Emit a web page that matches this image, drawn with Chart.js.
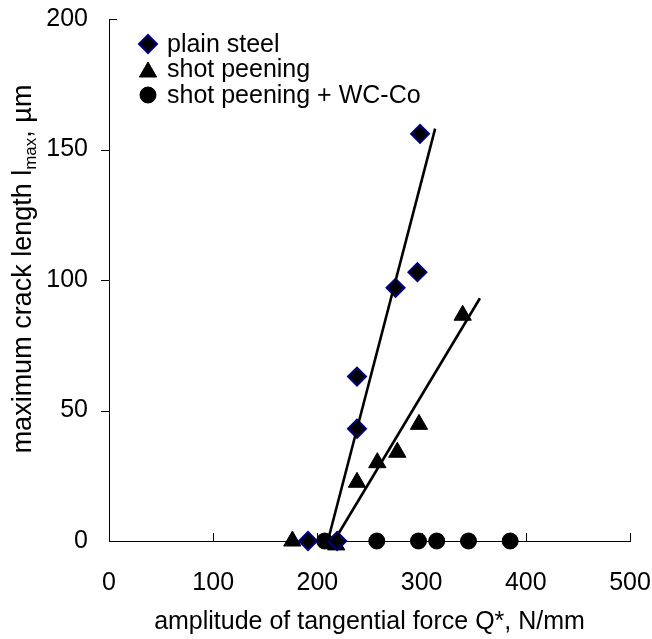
<!DOCTYPE html>
<html>
<head>
<meta charset="utf-8">
<script src="https://cdn.jsdelivr.net/npm/chart.js@4/dist/chart.umd.min.js"></script>
<style>
  html, body { margin: 0; padding: 0; background: #ffffff; }
  #wrap { width: 652px; height: 639px; }
</style>
</head>
<body>
<div id="wrap"><canvas id="c" width="652" height="639"></canvas></div>
<script>
// ---- data ----
const xTickValues = [0, 100, 200, 300, 400, 500];
const yTickValues = [0, 50, 100, 150, 200];
const seriesNames = ['plain steel', 'shot peening', 'shot peening + WC-Co'];

const plainX = [191, 219, 238, 238, 275, 296, 298.5];
const plainY = [0, 0, 43, 63, 97, 103, 156];

const shotX = [176, 218, 238, 257.5, 276.7, 297.5, 339.4];
const shotY = [0, -1.5, 22.5, 30, 34, 44.7, 86.5];

const wcX = [207, 257, 297, 314.5, 345, 385];
const wcY = [0, 0, 0, 0, 0, 0];

const plainFitX = [210, 313];
const plainFitY = [0, 158];
const shotFitX = [216, 356];
const shotFitY = [0, 93];

const xTitle = 'amplitude of tangential force Q*, N/mm';
const yTitleMain = 'maximum crack length l';
const yTitleSub = 'max';
const yTitleTail = ', µm';

const FONT = '"Liberation Sans", Arial, Helvetica, sans-serif';

function pts(xs, ys) { return xs.map((x, i) => ({ x: x, y: ys[i] })); }

const markerStyles = [
  { pointStyle: 'rectRot', radius: 9, backgroundColor: '#000000', borderColor: '#000080', borderWidth: 2 },
  { pointStyle: 'triangle', radius: 10, backgroundColor: '#000000', borderColor: '#000000', borderWidth: 1 },
  { pointStyle: 'circle', radius: 8, backgroundColor: '#000000', borderColor: '#000000', borderWidth: 1 }
];

// ---- plugins ----
const axisTicksPlugin = {
  id: 'axisTicks',
  afterDraw(chart) {
    const ctx = chart.ctx;
    const xs = chart.scales.x, ys = chart.scales.y;
    const x0 = xs.getPixelForValue(0);
    const y0 = ys.getPixelForValue(0);
    ctx.save();
    ctx.strokeStyle = '#000000';
    ctx.lineWidth = 1;
    ctx.beginPath();
    xTickValues.forEach(v => {
      if (v === 0) return;
      const px = Math.round(xs.getPixelForValue(v)) + 0.5;
      ctx.moveTo(px, y0);
      ctx.lineTo(px, y0 - 8);
    });
    yTickValues.forEach(v => {
      if (v === 0) return;
      const py = Math.round(ys.getPixelForValue(v)) + 0.5;
      if (v === 200) { ctx.moveTo(x0, py); ctx.lineTo(x0 + 8, py); }
      else { ctx.moveTo(x0 - 8, py); ctx.lineTo(x0, py); }
    });
    ctx.stroke();
    ctx.restore();
  }
};

const yTitlePlugin = {
  id: 'yTitle',
  afterDraw(chart) {
    const ctx = chart.ctx;
    const mainFont = '27px ' + FONT;
    const subFont = '17px ' + FONT;
    ctx.save();
    ctx.font = mainFont;
    const w1 = ctx.measureText(yTitleMain).width;
    const w3 = ctx.measureText(yTitleTail).width;
    ctx.font = subFont;
    const w2 = ctx.measureText(yTitleSub).width;
    const total = w1 + w2 + w3;
    const cy = 269, baseX = 31;
    ctx.translate(baseX, cy);
    ctx.rotate(-Math.PI / 2);
    ctx.fillStyle = '#000000';
    ctx.textBaseline = 'alphabetic';
    ctx.textAlign = 'left';
    let sx = -total / 2;
    ctx.font = mainFont;
    ctx.fillText(yTitleMain, sx, 0);
    sx += w1;
    ctx.font = subFont;
    ctx.fillText(yTitleSub, sx, 5);
    sx += w2;
    ctx.font = mainFont;
    ctx.fillText(yTitleTail, sx, 0);
    ctx.restore();
  }
};

const legendPlugin = {
  id: 'insideLegend',
  afterDraw(chart) {
    const ctx = chart.ctx;
    const rows = [44, 69.5, 95];
    const mx = 148, tx = 167;
    ctx.save();
    seriesNames.forEach((name, i) => {
      const st = markerStyles[i];
      ctx.fillStyle = st.backgroundColor;
      ctx.strokeStyle = st.borderColor;
      ctx.lineWidth = st.borderWidth;
      if (Chart.helpers && Chart.helpers.drawPoint) {
        Chart.helpers.drawPoint(ctx, { pointStyle: st.pointStyle, radius: st.radius, rotation: 0, borderWidth: st.borderWidth },
          mx, rows[i] + (st.pointStyle === 'triangle' ? 2.5 : 0));
      }
      ctx.fillStyle = '#000000';
      ctx.font = '25px ' + FONT;
      ctx.textAlign = 'left';
      ctx.textBaseline = 'middle';
      ctx.fillText(name, tx, rows[i] + 1);
    });
    ctx.restore();
  }
};

// ---- chart ----
const fitLine = (xs, ys) => ({
  type: 'line',
  data: pts(xs, ys),
  borderColor: '#000000',
  borderWidth: 2.6,
  pointRadius: 0,
  pointHoverRadius: 0,
  showLine: true,
  fill: false,
  clip: false,
  tension: 0
});

const scatterSet = (label, xs, ys, st) => ({
  type: 'scatter',
  label: label,
  data: pts(xs, ys),
  pointStyle: st.pointStyle,
  pointRadius: st.radius,
  pointHoverRadius: st.radius,
  backgroundColor: st.backgroundColor,
  borderColor: st.borderColor,
  pointBorderWidth: st.borderWidth,
  showLine: false,
  clip: false
});

new Chart(document.getElementById('c'), {
  type: 'scatter',
  data: {
    datasets: [
      fitLine(plainFitX, plainFitY),
      fitLine(shotFitX, shotFitY),
      scatterSet(seriesNames[0], plainX, plainY, markerStyles[0]),
      scatterSet(seriesNames[1], shotX, shotY, markerStyles[1]),
      scatterSet(seriesNames[2], wcX, wcY, markerStyles[2])
    ]
  },
  options: {
    responsive: false,
    devicePixelRatio: 1,
    animation: false,
    events: [],
    layout: { padding: { top: 19, right: 22, left: 0, bottom: 0 } },
    plugins: {
      legend: { display: false },
      tooltip: { enabled: false },
      title: { display: false }
    },
    scales: {
      x: {
        type: 'linear',
        min: 0, max: 500,
        afterBuildTicks(scale) { scale.ticks = xTickValues.map(v => ({ value: v })); },
        afterFit(scale) { scale.height = 98; scale.paddingLeft = 0; scale.paddingRight = 0; },
        ticks: { font: { family: FONT, size: 25 }, color: '#000000', padding: 27, maxRotation: 0 },
        grid: { display: false, drawTicks: false },
        border: { display: true, color: '#000000', width: 1 },
        title: {
          display: true, text: xTitle, color: '#000000',
          font: { family: FONT, size: 25 },
          padding: { top: 0, bottom: 2 }
        }
      },
      y: {
        type: 'linear',
        min: 0, max: 200,
        afterBuildTicks(scale) { scale.ticks = yTickValues.map(v => ({ value: v })); },
        afterFit(scale) { scale.width = 109; scale.paddingTop = 0; scale.paddingBottom = 0; },
        ticks: { font: { family: FONT, size: 25 }, color: '#000000', padding: 21 },
        grid: { display: false, drawTicks: false },
        border: { display: true, color: '#000000', width: 1 },
        title: { display: false }
      }
    }
  },
  plugins: [axisTicksPlugin, yTitlePlugin, legendPlugin]
});
</script>
</body>
</html>
